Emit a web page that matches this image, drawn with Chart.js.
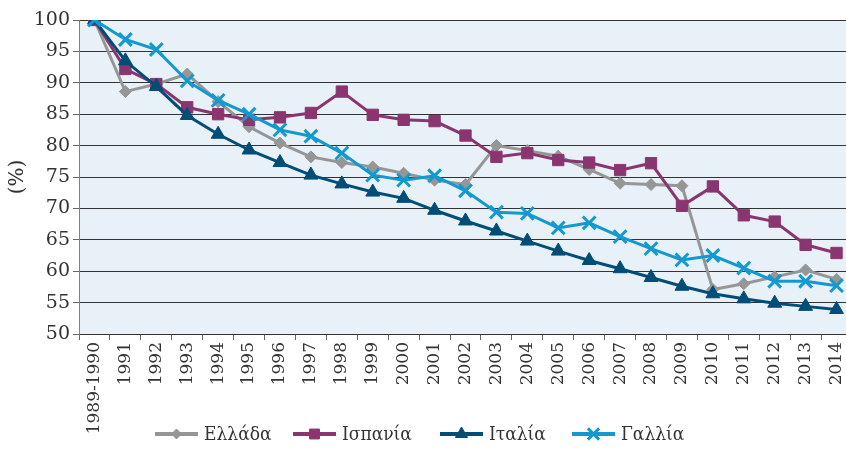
<!DOCTYPE html>
<html>
<head>
<meta charset="utf-8">
<script src="https://cdn.jsdelivr.net/npm/chart.js@4"></script>
<style>
  html, body { margin: 0; padding: 0; background: #fff; overflow: hidden; }
  #wrap { width: 864px; height: 451px; }
</style>
</head>
<body>
<div id="wrap"><canvas id="chart" width="864" height="451"></canvas></div>
<script>
const years = ['1989-1990', '1991', '1992', '1993', '1994', '1995', '1996', '1997', '1998', '1999',
  '2000', '2001', '2002', '2003', '2004', '2005', '2006', '2007', '2008', '2009',
  '2010', '2011', '2012', '2013', '2014'];

const greece = [100, 88.6, 89.8, 91.4, 87.0, 83.0, 80.4, 78.2, 77.3, 76.6, 75.6, 74.5, 73.8,
  80.0, 79.2, 78.3, 76.2, 74.0, 73.8, 73.6, 57.1, 58.0, 59.1, 60.2, 58.7];
const spain = [100, 92.2, 89.8, 86.1, 85.0, 84.1, 84.5, 85.2, 88.6, 84.9, 84.1, 83.9, 81.6,
  78.2, 78.8, 77.7, 77.3, 76.1, 77.2, 70.4, 73.5, 68.9, 67.9, 64.2, 62.9];
const italy = [100, 93.5, 89.4, 84.8, 81.8, 79.3, 77.3, 75.3, 73.9, 72.6, 71.6, 69.7, 68.0,
  66.4, 64.8, 63.2, 61.7, 60.4, 59.0, 57.6, 56.4, 55.6, 54.9, 54.4, 53.9];
const france = [100, 96.9, 95.3, 90.3, 87.2, 85.0, 82.5, 81.5, 78.8, 75.3, 74.5, 75.2, 72.8,
  69.4, 69.2, 66.9, 67.7, 65.5, 63.6, 61.8, 62.5, 60.5, 58.4, 58.4, 57.7];

const serif = 'DejaVu Serif';

function series(label, data, color, style, radius, order) {
  return {
    label: label,
    data: data,
    borderColor: color,
    backgroundColor: color,
    borderWidth: 3,
    pointStyle: style,
    pointRadius: radius,
    pointHoverRadius: radius,
    pointBorderWidth: style === 'crossRot' ? 3 : 1,
    pointBorderColor: color,
    pointBackgroundColor: color,
    tension: 0,
    order: order
  };
}

// light blue fill behind the plot
const plotBg = {
  id: 'plotBg',
  beforeDraw(chart) {
    const a = chart.chartArea, c = chart.ctx;
    c.save();
    c.fillStyle = '#e8f1f8';
    c.fillRect(a.left, a.top, a.right - a.left, a.bottom - a.top);
    c.restore();
  }
};

// legend with a line segment and the marker in its middle
const lineLegend = {
  id: 'lineLegend',
  afterDraw(chart) {
    const c = chart.ctx;
    const y = 434;
    const starts = [155, 293, 440, 572];
    c.save();
    c.font = '19px "DejaVu Serif Condensed", "DejaVu Serif"';
    c.textBaseline = 'middle';
    chart.data.datasets.forEach((ds, i) => {
      const x0 = starts[i], x1 = x0 + 43;
      c.strokeStyle = ds.borderColor;
      c.lineWidth = 4;
      c.beginPath();
      c.moveTo(x0, y);
      c.lineTo(x1, y);
      c.stroke();
      c.fillStyle = ds.borderColor;
      c.lineWidth = ds.pointBorderWidth;
      Chart.helpers.drawPoint(c, {
        pointStyle: ds.pointStyle, radius: ds.pointRadius - 1, rotation: 0,
        borderWidth: ds.pointBorderWidth
      }, (x0 + x1) / 2, y);
      c.fillStyle = '#333';
      c.fillText(ds.label, x1 + 6, y + 1);
    });
    c.restore();
  }
};

new Chart(document.getElementById('chart'), {
  type: 'line',
  data: {
    labels: years,
    datasets: [
      series('Ελλάδα', greece, '#969696', 'rectRot', 6, 3),
      series('Ισπανία', spain, '#8a356f', 'rect', 8, 2),
      series('Ιταλία', italy, '#004d78', 'triangle', 8, 1),
      series('Γαλλία', france, '#1399cf', 'crossRot', 9, 0)
    ]
  },
  options: {
    responsive: false,
    animation: false,
    layout: { padding: { top: 20, right: 0, bottom: 0, left: 0 } },
    plugins: {
      legend: { display: false },
      tooltip: { enabled: false }
    },
    scales: {
      x: {
        offset: true,
        grid: {
          offset: true,
          drawOnChartArea: false,
          drawTicks: true,
          tickLength: 6,
          color: '#666'
        },
        border: { display: false },
        ticks: {
          minRotation: 90,
          maxRotation: 90,
          autoSkip: false,
          padding: 2,
          color: '#333',
          font: { family: serif, size: 17 }
        },
        afterFit(scale) { scale.height = 117; }
      },
      y: {
        min: 50,
        max: 100,
        ticks: {
          stepSize: 5,
          padding: 3,
          color: '#333',
          font: { family: serif, size: 19 }
        },
        grid: {
          color: '#333',
          lineWidth: 1,
          tickLength: 6,
          tickColor: '#666'
        },
        border: { display: true, color: '#808080', width: 1 },
        title: {
          display: true,
          text: '(%)',
          color: '#333',
          font: { family: serif, size: 20 },
          padding: { top: 6, bottom: 0 }
        },
        afterFit(scale) { scale.width = 79; }
      }
    }
  },
  plugins: [plotBg, lineLegend]
});
</script>
</body>
</html>
